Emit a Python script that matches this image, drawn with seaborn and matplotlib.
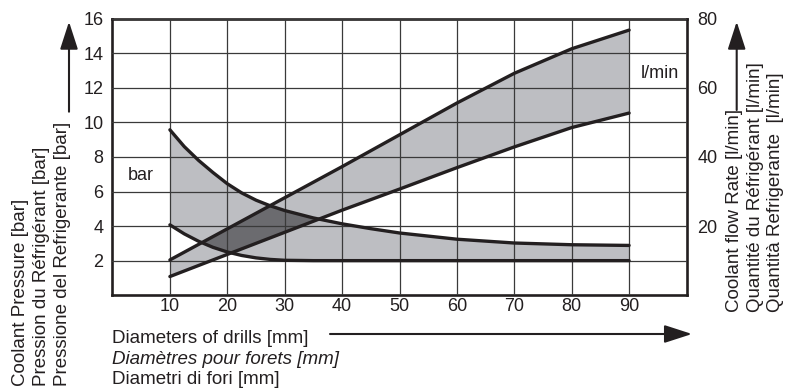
import numpy as np
import matplotlib
matplotlib.use("Agg")
import matplotlib.pyplot as plt
import seaborn as sns

# ---------------- data ----------------
press_x = [10, 12.5, 15, 17.5, 20, 22.5, 25, 27.5, 30, 35, 40, 45, 50, 60, 70, 80, 90]
press_max = [9.57, 8.60, 7.80, 7.10, 6.45, 5.92, 5.50, 5.17, 4.90, 4.47, 4.13, 3.85,
             3.60, 3.24, 3.02, 2.92, 2.88]
press_min = [4.07, 3.55, 3.12, 2.77, 2.50, 2.30, 2.16, 2.07, 2.02, 2.00, 2.00, 2.00,
             2.00, 2.00, 2.00, 2.00, 2.00]

flow_x = [10, 20, 30, 40, 50, 60, 70, 80, 90]
flow_max = [10.2, 19.2, 28.2, 37.2, 46.4, 55.6, 64.2, 71.3, 76.7]
flow_min = [5.4, 11.8, 18.2, 24.6, 30.7, 36.9, 42.9, 48.5, 52.7]

x_ticks = [10, 20, 30, 40, 50, 60, 70, 80, 90]
press_ticks = [2, 4, 6, 8, 10, 12, 14, 16]
flow_ticks = [20, 40, 60, 80]
x_range = (0, 100)
press_range = (0, 16)
flow_range = (0, 80)

left_labels = ["Coolant Pressure [bar]",
               "Pression du Réfrigérant [bar]",
               "Pressione del Refrigerante [bar]"]
right_labels = ["Coolant flow Rate [l/min]",
                "Quantité du Réfrigérant [l/min]",
                "Quantità Refrigerante  [l/min]"]
bottom_labels = ["Diameters of drills [mm]",
                 "Diamètres pour forets [mm]",
                 "Diametri di fori [mm]"]
unit_press = "bar"
unit_flow = "l/min"

# ---------------- style ----------------
sns.set_theme(style="white")
plt.rcParams["font.family"] = ["Liberation Sans", "DejaVu Sans"]

LINE = "#231f20"
LIGHT = "#bdbec2"
DARK = "#6b6b6f"
GRID = "#3a3a3a"

W, H = 787, 388
fig = plt.figure(figsize=(W / 100, H / 100), dpi=100)
fig.patch.set_facecolor("white")
ax = fig.add_axes([112.5 / W, 92.8 / H, 574 / W, 276.5 / H])
ax2 = ax.twinx()

ax.set_xlim(*x_range)
ax.set_ylim(*press_range)
ax2.set_ylim(*flow_range)

# ---------------- fills ----------------
ax.fill_between(press_x, press_min, press_max, color=LIGHT, lw=0, zorder=1)
ax.fill_between(flow_x, flow_min, flow_max, color=LIGHT, lw=0, zorder=1,
                transform=ax2.transData)

# overlap of the two bands (dark)
k = (flow_range[1] - flow_range[0]) / (press_range[1] - press_range[0])
xf = np.linspace(10, 90, 1601)
pl = np.interp(xf, press_x, press_min)
pu = np.interp(xf, press_x, press_max)
fl = np.interp(xf, flow_x, flow_min) / k
fu = np.interp(xf, flow_x, flow_max) / k
lo = np.maximum(pl, fl)
hi = np.minimum(pu, fu)
ax.fill_between(xf, lo, hi, where=hi > lo, color=DARK, lw=0, zorder=2)

# ---------------- curves ----------------
for yv in (press_max, press_min):
    sns.lineplot(x=press_x, y=yv, ax=ax, color=LINE, lw=2.4, zorder=4)
for yv in (flow_max, flow_min):
    sns.lineplot(x=flow_x, y=yv, ax=ax, color=LINE, lw=2.4, zorder=4,
                 transform=ax2.transData)

ax.set_xlim(*x_range)
ax.set_ylim(*press_range)
ax2.set_ylim(*flow_range)
ax.set_xlabel("")
ax.set_ylabel("")

# ---------------- axes, grid, ticks ----------------
ax.set_xticks(x_ticks)
ax.set_yticks(press_ticks)
ax2.set_yticks(flow_ticks)
ax.set_axisbelow(False)
ax.grid(True, color=GRID, lw=0.9)
ax2.grid(False)

ax.tick_params(axis="both", length=0, labelsize=13, colors=LINE)
ax.tick_params(axis="y", pad=6.5)
ax.tick_params(axis="x", pad=2)
ax2.tick_params(axis="y", length=0, labelsize=13, colors=LINE, pad=8)

for s in ax.spines.values():
    s.set_visible(True)
    s.set_linewidth(1.9)
    s.set_color(LINE)
for s in ax2.spines.values():
    s.set_visible(False)

ax.text(5.0, 6.9, unit_press, fontsize=13, color=LINE, ha="center", va="center")
ax.text(95.4, 12.82, unit_flow, fontsize=13, color=LINE, ha="center", va="center")

# ---------------- outer labels ----------------
for xc, t in zip([21, 41.5, 62.5], left_labels):
    fig.text(xc / W, (H - 386) / H, t, rotation=90, ha="center", va="bottom",
             fontsize=13.5, color=LINE)
for xc, t in zip([734.5, 755, 775], right_labels):
    fig.text(xc / W, (H - 312) / H, t, rotation=90, ha="center", va="bottom",
             fontsize=13.5, color=LINE)
for yb, t, st in zip([343.3, 363.5, 384], bottom_labels, ["normal", "italic", "normal"]):
    fig.text(112 / W, (H - yb) / H, t, ha="left", va="baseline", fontsize=13.5,
             color=LINE, style=st)

# ---------------- arrows ----------------
ap = dict(arrowstyle="-|>,head_length=1.7,head_width=0.55", mutation_scale=10,
          lw=1.5, color=LINE, shrinkA=0, shrinkB=0)
for (x0, y0), (x1, y1) in [((69, 111.7), (69, 21.7)),
                           ((736.7, 110), (736.7, 21.7)),
                           ((330, 334), (692, 334))]:
    ax.annotate("", xy=(x1, H - y1), xytext=(x0, H - y0),
                xycoords="figure pixels", textcoords="figure pixels",
                arrowprops=ap, annotation_clip=False)

fig.savefig("out.png", dpi=100)
